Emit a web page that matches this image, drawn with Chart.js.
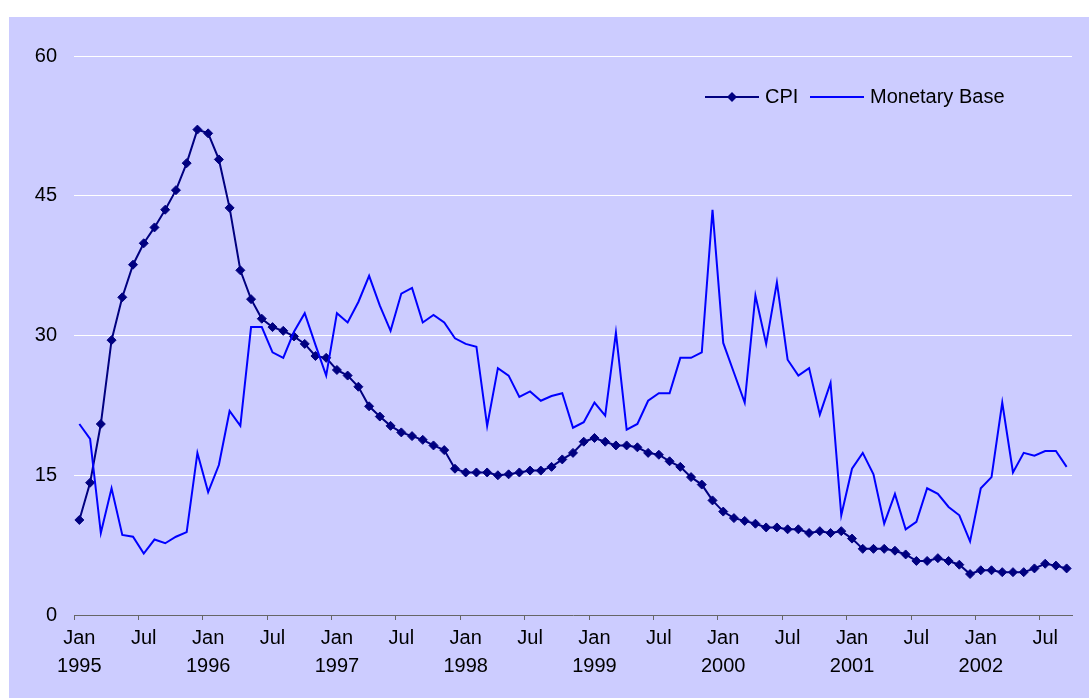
<!DOCTYPE html>
<html>
<head>
<meta charset="utf-8">
<script src="https://cdn.jsdelivr.net/npm/chart.js@4"></script>
<style>
  html, body { margin: 0; padding: 0; background: #ffffff; }
  #wrap { position: absolute; left: 9px; top: 17px; width: 1080px; height: 681px; background: #ccccff; }
</style>
</head>
<body>
<div id="wrap"><canvas id="cpiChart" width="1080" height="681"></canvas></div>
<script>
// monthly, Jan 1995 .. Sep 2002 (% change over a year earlier)
const years = [1995, 1996, 1997, 1998, 1999, 2000, 2001, 2002];
const monthNames = ["Jan", "Feb", "Mar", "Apr", "May", "Jun", "Jul", "Aug", "Sep", "Oct", "Nov", "Dec"];

const cpi = [
  10.2, 14.2, 20.5, 29.5, 34.1, 37.6, 39.9, 41.6, 43.5, 45.6, 48.5, 52.1,
  51.7, 48.9, 43.7, 37.0, 33.9, 31.8, 30.9, 30.5, 29.9, 29.1, 27.8, 27.6,
  26.3, 25.7, 24.5, 22.4, 21.3, 20.3, 19.6, 19.2, 18.8, 18.2, 17.7, 15.7,
  15.3, 15.3, 15.3, 15.0, 15.1, 15.3, 15.5, 15.5, 15.9, 16.7, 17.4, 18.6,
  19.0, 18.6, 18.2, 18.2, 18.0, 17.4, 17.2, 16.5, 15.9, 14.8, 14.0, 12.3,
  11.1, 10.4, 10.1, 9.8, 9.4, 9.4, 9.2, 9.2, 8.8, 9.0, 8.8, 9.0,
  8.2, 7.1, 7.1, 7.1, 6.9, 6.5, 5.8, 5.8, 6.1, 5.8, 5.4, 4.4,
  4.8, 4.8, 4.6, 4.6, 4.6, 5.0, 5.5, 5.3, 5.0
];

const monetaryBase = [
  20.5, 18.9, 8.8, 13.6, 8.6, 8.4, 6.6, 8.1, 7.7, 8.4, 8.9, 17.4,
  13.2, 16.1, 21.9, 20.3, 30.9, 30.9, 28.2, 27.6, 30.4, 32.4, 29.0, 25.7,
  32.4, 31.4, 33.6, 36.4, 33.2, 30.5, 34.5, 35.1, 31.4, 32.2, 31.4, 29.7,
  29.1, 28.8, 20.3, 26.5, 25.7, 23.4, 24.0, 23.0, 23.5, 23.8, 20.1, 20.7,
  22.8, 21.4, 30.3, 19.9, 20.5, 23.0, 23.8, 23.8, 27.6, 27.6, 28.2, 43.5,
  29.2, 26.0, 22.8, 34.3, 29.1, 35.7, 27.4, 25.7, 26.5, 21.5, 24.9, 10.7,
  15.7, 17.4, 15.1, 9.8, 13.0, 9.2, 10.0, 13.6, 13.0, 11.6, 10.7, 7.9,
  13.6, 14.8, 22.8, 15.3, 17.4, 17.1, 17.6, 17.6, 15.9
];

const yTicks = [0, 15, 30, 45, 60];

// "Jan 1995", "Feb 1995", ...
const labels = [];
years.forEach(y => monthNames.forEach(m => labels.push(m + " " + y)));
labels.length = cpi.length;

const fontFamily = "'Liberation Sans', Arial, sans-serif";
const axisGrey = "#666666";

// legend drawn inside the plot, top right
const legendItems = [
  { text: "CPI", color: "#000080", marker: true, lineX: 631, textX: 691 },
  { text: "Monetary Base", color: "#0000ff", marker: false, lineX: 736, textX: 796 }
];

const insideLegend = {
  id: "insideLegend",
  afterDraw(chart) {
    const c = chart.ctx;
    const area = chart.chartArea;
    const y = area.top + 41;
    c.save();
    legendItems.forEach(item => {
      const x0 = area.left + item.lineX;
      c.strokeStyle = item.color;
      c.lineWidth = 2;
      c.beginPath();
      c.moveTo(x0, y);
      c.lineTo(x0 + 54, y);
      c.stroke();
      if (item.marker) {
        const mx = x0 + 27, r = 5;
        c.fillStyle = item.color;
        c.beginPath();
        c.moveTo(mx - r, y);
        c.lineTo(mx, y - r);
        c.lineTo(mx + r, y);
        c.lineTo(mx, y + r);
        c.closePath();
        c.fill();
      }
      c.fillStyle = "#000000";
      c.font = "20px " + fontFamily;
      c.textBaseline = "middle";
      c.textAlign = "left";
      c.fillText(item.text, area.left + item.textX, y);
    });
    c.restore();
  }
};

const ctx = document.getElementById("cpiChart").getContext("2d");

new Chart(ctx, {
  type: "line",
  data: {
    labels: labels,
    datasets: [
      {
        label: "CPI",
        data: cpi,
        borderColor: "#000080",
        backgroundColor: "#000080",
        pointBackgroundColor: "#000080",
        pointBorderColor: "#000080",
        borderWidth: 2,
        pointStyle: "rectRot",
        pointRadius: 4.5,
        pointBorderWidth: 1,
        tension: 0,
        order: 1
      },
      {
        label: "Monetary Base",
        data: monetaryBase,
        borderColor: "#0000ff",
        backgroundColor: "#0000ff",
        borderWidth: 2,
        pointRadius: 0,
        tension: 0,
        order: 0
      }
    ]
  },
  options: {
    responsive: false,
    animation: false,
    layout: { padding: { top: 39, right: 17, left: 0, bottom: 0 } },
    plugins: {
      legend: { display: false },
      tooltip: { enabled: false }
    },
    scales: {
      x: {
        type: "category",
        offset: true,
        grid: {
          offset: true,
          drawOnChartArea: false,
          drawTicks: true,
          tickLength: 5,
          lineWidth: 1,
          color: c => (c.index % 6 === 0 ? axisGrey : "rgba(0,0,0,0)")
        },
        border: { display: true, color: axisGrey, width: 1 },
        ticks: {
          autoSkip: false,
          maxRotation: 0,
          minRotation: 0,
          padding: 4,
          color: "#000000",
          font: { size: 20, family: fontFamily, lineHeight: 1.4 },
          callback: function (value) {
            const [m, y] = this.getLabelForValue(value).split(" ");
            if (m === "Jan") return [m, y];
            if (m === "Jul") return m;
            return "";
          }
        },
        afterFit: s => { s.height = 83; }
      },
      y: {
        min: yTicks[0],
        max: yTicks[yTicks.length - 1],
        afterBuildTicks: s => { s.ticks = yTicks.map(v => ({ value: v })); },
        grid: {
          drawTicks: false,
          lineWidth: 1,
          color: c => (c.tick && c.tick.value === 0 ? "rgba(0,0,0,0)" : "#ffffff")
        },
        border: { display: false },
        ticks: {
          padding: 17,
          color: "#000000",
          font: { size: 20, family: fontFamily }
        },
        afterFit: s => { s.width = 65; }
      }
    }
  },
  plugins: [insideLegend]
});
</script>
</body>
</html>
